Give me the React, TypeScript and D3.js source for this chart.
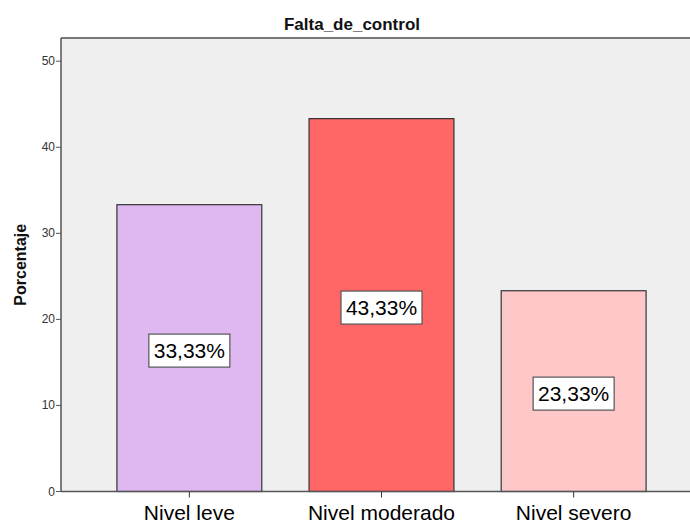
import React from "react";
import * as d3 from "d3";

const categories = ["Nivel leve", "Nivel moderado", "Nivel severo"];
const values = [33.33, 43.33, 23.33];
const valueLabels = ["33,33%", "43,33%", "23,33%"];
const colors = ["#dfb8f2", "#ff6666", "#ffc8c8"];
const yTicks = [0, 10, 20, 30, 40, 50];
const title = "Falta_de_control";
const yTitle = "Porcentaje";

const W = 690;
const H = 525;
const left = 61;
const right = 702;
const top = 38;
const bottom = 491.5;

export default function App() {
  const x = d3
    .scaleBand<string>()
    .domain(categories)
    .range([left, right])
    .paddingInner(0.246)
    .paddingOuter(0.291);
  const y = d3.scaleLinear().domain([0, 52.7]).range([bottom, top]);
  const font = "Arial, 'Liberation Sans', sans-serif";

  return (
    <svg
      width={W}
      height={H}
      style={{ position: "absolute", left: 0, top: 0, background: "#fff" }}
      fontFamily={font}
    >
      <rect x={left} y={top} width={W - left} height={bottom - top} fill="#efefef" />
      <line x1={left} x2={W} y1={top} y2={top} stroke="#777" strokeWidth={2} />
      <text x={352} y={30} textAnchor="middle" fontSize={17} fontWeight="bold" fill="#111">
        {title}
      </text>
      {categories.map((c, i) => {
        const bx = x(c)!;
        const bw = x.bandwidth();
        const by = y(values[i]);
        const cx = bx + bw / 2;
        const cy = (by + bottom) / 2 + 2.5;
        const bwLab = 81;
        const bhLab = 33;
        return (
          <g key={c}>
            <rect
              x={bx}
              y={by}
              width={bw}
              height={bottom - by}
              fill={colors[i]}
              stroke="#333"
              strokeWidth={1.2}
            />
            <rect
              x={cx - bwLab / 2}
              y={cy - bhLab / 2}
              width={bwLab}
              height={bhLab}
              fill="#fff"
              stroke="#555"
              strokeWidth={1.2}
            />
            <text
              x={cx}
              y={cy + 7.5}
              textAnchor="middle"
              fontSize={21}
              fill="#000"
            >
              {valueLabels[i]}
            </text>
            <line x1={cx} x2={cx} y1={bottom} y2={bottom + 6} stroke="#333" />
            <text x={cx} y={520} textAnchor="middle" fontSize={21} fill="#000">
              {c}
            </text>
          </g>
        );
      })}
      <line x1={left} x2={left} y1={top} y2={bottom} stroke="#555" strokeWidth={1.5} />
      <line x1={left} x2={W} y1={bottom} y2={bottom} stroke="#555" strokeWidth={1.5} />
      {yTicks.map((t) => (
        <g key={t}>
          <line x1={left - 5} x2={left} y1={y(t)} y2={y(t)} stroke="#555" />
          <text x={left - 6} y={y(t) + 4} textAnchor="end" fontSize={12} fill="#333">
            {t}
          </text>
        </g>
      ))}
      <text
        transform={`translate(26, ${(top + bottom) / 2}) rotate(-90)`}
        textAnchor="middle"
        fontSize={16}
        fontWeight="bold"
        fill="#111"
      >
        {yTitle}
      </text>
    </svg>
  );
}
